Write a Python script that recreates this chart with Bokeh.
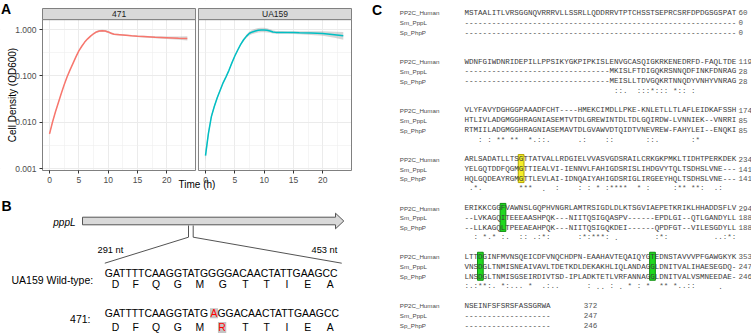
import math
from bokeh.plotting import figure
from bokeh.models import Range1d, FixedTicker, PrintfTickFormatter, CustomJSTickFormatter, Label
from bokeh.layouts import row, column
from bokeh.embed import file_html
from bokeh.resources import INLINE
from bokeh.core.properties import value

SANS = "Liberation Sans"
MONO = "Liberation Mono"

# ======================= Panel A data =======================
facets = ["471", "UA159"]
facet_colors = ["#F8766D", "#00BFC4"]
time_h = [0, 0.5, 1, 1.5, 2, 2.5, 3, 3.5, 4, 4.5, 5, 5.5, 6, 6.5, 7, 7.5, 8, 8.5,
          9, 9.5, 10, 10.5, 11, 11.5, 12, 13, 14, 15, 16, 18, 20, 22, 23.5]
od_471 = [0.0056, 0.0100, 0.0166, 0.0263, 0.0417, 0.0646, 0.0955, 0.135, 0.186, 0.257,
          0.347, 0.437, 0.537, 0.631, 0.724, 0.813, 0.891, 0.933, 0.944, 0.933,
          0.891, 0.832, 0.794, 0.785, 0.776, 0.759, 0.733, 0.716, 0.708, 0.684,
          0.668, 0.653, 0.646]
od_ua159 = [0.0019, 0.00575, 0.0132, 0.0219, 0.0339, 0.0490, 0.0708, 0.0955, 0.132, 0.191,
            0.269, 0.363, 0.479, 0.603, 0.724, 0.832, 0.891, 0.933, 0.966, 0.982,
            0.982, 0.966, 0.933, 0.891, 0.871, 0.871, 0.867, 0.861, 0.851, 0.841,
            0.822, 0.776, 0.733]
# half-width of the confidence band, in decades
ci_471 = [0.030, 0.020, 0.015, 0.012, 0.012, 0.012, 0.012, 0.012, 0.012, 0.012,
          0.012, 0.012, 0.012, 0.012, 0.015, 0.018, 0.020, 0.022, 0.022, 0.022,
          0.022, 0.020, 0.018, 0.016, 0.015, 0.015, 0.015, 0.016, 0.018, 0.022,
          0.028, 0.035, 0.045]
ci_ua159 = [0.120, 0.070, 0.050, 0.040, 0.035, 0.030, 0.028, 0.026, 0.025, 0.025,
            0.025, 0.025, 0.026, 0.030, 0.035, 0.040, 0.045, 0.048, 0.050, 0.050,
            0.048, 0.045, 0.040, 0.035, 0.030, 0.028, 0.028, 0.030, 0.033, 0.040,
            0.050, 0.065, 0.085]
x_ticks = [0, 5, 10, 15, 20]
x_minor = [2.5, 7.5, 12.5, 17.5, 22.5]
y_ticks = [0.001, 0.01, 0.1, 1.0]
y_minor = [10 ** -2.5, 10 ** -1.5, 10 ** -0.5]

# ======================= Panel B data =======================
gene_name = "pppL"
region_start = "291 nt"
region_end = "453 nt"
wt_label = "UA159 Wild-type:"
mut_label = "471:"
wt_nt = "GATTTTCAAGGTATGGGGACAACTATTGAAGCC"
mut_nt = "GATTTTCAAGGTATGAGGACAACTATTGAAGCC"
wt_aa = ["D", "F", "Q", "G", "M", "G", "T", "T", "I", "E", "A"]
mut_aa = ["D", "F", "Q", "G", "M", "R", "T", "T", "I", "E", "A"]
mut_nt_index = 15
mut_aa_index = 5

# ======================= Panel C data =======================
species = ["PP2C_Human", "Sm_PppL", "Sp_PhpP"]
human_rows = [
    "MSTAALITLVRSGGNQVRRRVLLSSRLLQDDRRVTPTCHSSTSEPRCSRFDPDGSGSPAT",
    "WDNFGIWDNRIDEPILLPPSIKYGKPIPKISLENVGCASQIGKRKENEDRFD-FAQLTDE",
    "VLYFAVYDGHGGPAAADFCHT----HMEKCIMDLLPKE-KNLETLLTLAFLEIDKAFSSH",
    "ARLSADATLLTSGTTATVALLRDGIELVVASVGDSRAILCRKGKPMKLTIDHTPERKDEK",
    "ERIKKCGGFVAWNSLGQPHVNGRLAMTRSIGDLDLKTSGVIAEPETKRIKLHHADDSFLV",
    "LTTDGINFMVNSQEICDFVNQCHDPN-EAAHAVTEQAIQYGTEDNSTAVVVPFGAWGKYK",
    "NSEINFSFSRSFASSGRWA",
]
sm_rows = [
    "-" * 60,
    "-" * 32 + "MKISLFTDIGQKRSNNQDFINKFDNRAG",
    "HTLIVLADGMGGHRAGNIASEMTVTDLGREWINTDLTDLGQIRDW-LVNNIEK--VNRRI",
    "YELGQTDDFQGMGTTIEALVI-IENNVLFAHIGDSRISLIHDGVYTQLTSDHSLVNE---",
    "--LVKAGQITEEEAASHPQK---NIITQSIGQASPV------EPDLGI--QTLGANDYLL",
    "VNSDGLTNMISNEAIVAVLTDETKDLDEKAKHLIQLANDAGGLDNITVALIHAESEGDQ-",
    "-" * 19,
]
sp_rows = [
    "-" * 60,
    "-" * 32 + "MEISLLTDVGQKRTNNQDYVNHYVNRAG",
    "RTMIILADGMGGHRAGNIASEMAVTDLGVAWVDTQIDTVNEVREW-FAHYLEI--ENQKI",
    "HQLGQDEAYRGMGTTLEVLAI-IDNQAIYAHIGDSRIGLIRGEEYHQLTSDHSLVNE---",
    "--LLKAGQLTPEEAEAHPQK---NIITQSIGQKDEI------QPDFGT--VILESGDYLL",
    "LNSDGLTNMISGSEIRDIVTSD-IPLADKTETLVRFANNAGGLDNITVALVSMNEEDAE-",
    "-" * 19,
]
human_end = [60, 119, 174, 234, 294, 353, 372]
sm_end = [0, 28, 85, 141, 188, 247, 247]
sp_end = [0, 28, 85, 141, 188, 246, 246]
# conservation marks: (alignment column, marks)
cons_runs = [
    [],
    [(33, "::."), (38, ":::*:::"), (46, "*::"), (50, ":")],
    [(3, ":"), (5, ":"), (7, "**"), (10, "**"), (14, "*.::."), (25, ".:"), (31, "::"),
     (40, "::."), (50, ":*")],
    [(1, ".*."), (12, "***"), (17, "."), (20, ":"), (25, ":"), (27, ":"), (29, "*"),
     (31, ":****"), (38, "*"), (40, ":"), (46, ":**"), (50, "**:"), (55, ".:")],
    [(2, ":"), (4, "*.*"), (8, ":."), (12, "::"), (15, ".:*:"), (25, ":*:***:"), (33, "."),
     (42, ":*:"), (55, "..:*:")],
    [(0, ":.:**:."), (8, "*:..."), (14, "*"), (17, ".:.."), (27, ":"), (29, ".."), (32, ":"),
     (34, "."), (36, "*"), (38, ":"), (40, "*"), (43, "**"), (46, "*..::"), (56, ".")],
    [],
]
# highlighted alignment columns: (block, column, kind)
highlights = [(3, 12, "yellow"), (4, 8, "green"), (5, 3, "green"), (5, 41, "green")]
hl_fill = {"yellow": "#F5EE2A", "green": "#1FD81F"}
hl_line = {"yellow": "#B3A300", "green": "#0F8F0F"}

# ======================= Panel A =======================
A_W, A_H = 370, 190
A_LEFT, A_RIGHT, A_TOP, A_BOTTOM = 42, 19, 8, 20      # canvas margins round the facets
X_LO, X_HI, GAP = -1.2, 24.9, 0.5
SHIFT = X_HI - X_LO + GAP
LOG_LO, LOG_PTOP, LOG_STOP = -3.043, 0.216, 0.4557
XPX = (A_W - A_LEFT - A_RIGHT) / (X_HI + SHIFT - X_LO)
YPX = (A_H - A_TOP - A_BOTTOM) / (LOG_STOP - LOG_LO)
X_START = X_LO - A_LEFT / XPX
X_END = X_HI + SHIFT + A_RIGHT / XPX
LOG_TOP = LOG_STOP + A_TOP / YPX
LOG_BOT = LOG_LO - A_BOTTOM / YPX


def ax_x(px):
    return X_START + px / XPX


def ax_y(py):
    return 10 ** (LOG_TOP - py / YPX)


pA = figure(width=A_W, height=A_H, title=None, y_axis_type="log",
            x_range=Range1d(X_START, X_END), y_range=Range1d(10 ** LOG_BOT, 10 ** LOG_TOP),
            output_backend="svg", toolbar_location=None, min_border=0, frame_align=False)
pA.extra_x_ranges = {"f2": Range1d(X_START - SHIFT, X_END - SHIFT)}
pA.outline_line_color = None
pA.border_fill_color = "white"

# white masks outside the two panels (hide grid there)
Y_B, Y_T = 10 ** LOG_BOT, 10 ** LOG_TOP
pA.quad(left=[X_START, X_HI + SHIFT, X_START, X_START, X_HI],
        right=[X_LO, X_END, X_END, X_END, X_HI + GAP],
        bottom=[Y_B, Y_B, Y_B, 10 ** LOG_STOP, Y_B],
        top=[Y_T, Y_T, 10 ** LOG_LO, Y_T, Y_T],
        fill_color="white", line_color=None)

series = [(od_471, ci_471), (od_ua159, ci_ua159)]
for i, (lab, colr, (od, ci)) in enumerate(zip(facets, facet_colors, series)):
    rn = "default" if i == 0 else "f2"
    lo = [v / 10 ** c for v, c in zip(od, ci)]
    hi = [v * 10 ** c for v, c in zip(od, ci)]
    pA.varea(x=time_h, y1=lo, y2=hi, fill_color="#999999", fill_alpha=0.4, x_range_name=rn)
    pA.line(time_h, od, line_color=colr, line_width=1.5, x_range_name=rn)
    pA.quad(left=[X_LO], right=[X_HI], bottom=[10 ** LOG_LO], top=[10 ** LOG_PTOP],
            fill_color=None, line_color="#808080", line_width=1, x_range_name=rn)
    pA.quad(left=[X_LO], right=[X_HI], bottom=[10 ** LOG_PTOP], top=[10 ** LOG_STOP],
            fill_color="#D9D9D9", line_color="#808080", line_width=1, x_range_name=rn)
    pA.text(x=[(X_LO + X_HI) / 2], y=[10 ** ((LOG_PTOP + LOG_STOP) / 2)], text=[lab],
            text_font=value(SANS), text_font_size="8.5px", text_color="#1A1A1A",
            text_align="center", text_baseline="middle", x_range_name=rn)

xa = pA.xaxis[0]
xa.fixed_location = 10 ** LOG_LO
xa.ticker = FixedTicker(ticks=x_ticks + [t + SHIFT for t in x_ticks],
                        minor_ticks=x_minor + [t + SHIFT for t in x_minor])
xa.formatter = CustomJSTickFormatter(args=dict(shift=SHIFT),
                                     code="const v = tick > shift - 3 ? tick - shift : tick; return String(Math.round(v));")
ya = pA.yaxis[0]
ya.fixed_location = X_LO
ya.ticker = FixedTicker(ticks=y_ticks, minor_ticks=y_minor)
ya.formatter = PrintfTickFormatter(format="%.3f")
for ax in (xa, ya):
    ax.axis_line_color = None
    ax.major_tick_line_color = "#333333"
    ax.major_tick_out = 3
    ax.major_tick_in = 0
    ax.minor_tick_line_color = None
    ax.major_label_text_font = SANS
    ax.major_label_text_font_size = "8.5px"
    ax.major_label_text_color = "#4D4D4D"
    ax.major_label_standoff = 2
for g in (pA.xgrid[0], pA.ygrid[0]):
    g.grid_line_color = "#EBEBEB"
    g.grid_line_width = 1
    g.minor_grid_line_color = "#EFEFEF"
    g.minor_grid_line_width = 0.6

pA.add_layout(Label(x=(X_LO + X_HI + SHIFT) / 2, y=ax_y(183.5), text="Time (h)",
                    text_font=SANS, text_font_size="10px", text_color="black",
                    text_align="center", text_baseline="middle"))
pA.add_layout(Label(x=ax_x(11.5), y=10 ** ((LOG_LO + LOG_PTOP) / 2), text="Cell Density (OD600)",
                    angle=math.pi / 2, text_font=SANS, text_font_size="10px", text_color="black",
                    text_align="center", text_baseline="middle"))
pA.add_layout(Label(x=ax_x(0.5), y=ax_y(8.7), text="A", text_font=SANS, text_font_size="14px",
                    text_font_style="bold", text_color="black", text_align="left",
                    text_baseline="middle"))

# ======================= Panel B =======================
B_W, B_H = 370, 143
pB = figure(width=B_W, height=B_H, title=None, x_range=Range1d(0, B_W), y_range=Range1d(B_H, 0),
            x_axis_location=None, y_axis_location=None, output_backend="svg",
            toolbar_location=None, min_border=0, frame_align=False)
pB.outline_line_color = None
pB.xgrid.visible = False
pB.ygrid.visible = False

ARROW_L, ARROW_HEAD, ARROW_TIP = 82, 335, 343.3
ARROW_BT, ARROW_BB, ARROW_HT, ARROW_HB = 26.7, 34.3, 22.7, 38.3
pB.patch([ARROW_L, ARROW_HEAD, ARROW_HEAD, ARROW_TIP, ARROW_HEAD, ARROW_HEAD, ARROW_L],
         [ARROW_BT, ARROW_BT, ARROW_HT, (ARROW_BT + ARROW_BB) / 2, ARROW_HB, ARROW_BB, ARROW_BB],
         fill_color="#D9D9D9", line_color="#555555", line_width=1)

NT_FONT = 10.4
SEQ_X0 = 104.3
ARIAL_W = {"A": 0.667, "C": 0.722, "G": 0.778, "T": 0.611}


def nt_x(seq, i):
    return SEQ_X0 + NT_FONT * sum(ARIAL_W[c] for c in seq[:i])


SEQ_X1 = nt_x(wt_nt, len(wt_nt))
MARK_L, MARK_R, MARK_T, MARK_B, FAN_Y = 188, 192.7, 35, 46.7, 72.7
pB.segment(x0=[MARK_L, MARK_R, MARK_L, MARK_R], y0=[MARK_T, MARK_T, MARK_B, MARK_B],
           x1=[MARK_L, MARK_R, SEQ_X0, SEQ_X1], y1=[MARK_B, MARK_B, FAN_Y, FAN_Y],
           line_color="#404040", line_width=0.9)

WT_Y, WT_AA_Y, MUT_Y, MUT_AA_Y = 82.8, 94.2, 122.8, 136.6
codon_c = [(nt_x(wt_nt, 3 * k) + nt_x(wt_nt, 3 * k + 3)) / 2 for k in range(len(wt_aa))]
mut_l = nt_x(mut_nt, mut_nt_index)
mut_r = nt_x(mut_nt, mut_nt_index + 1)
mut_codon_c = (nt_x(mut_nt, 3 * mut_aa_index) + nt_x(mut_nt, 3 * mut_aa_index + 3)) / 2
pB.rect(x=[(mut_l + mut_r) / 2, mut_codon_c], y=[MUT_Y, MUT_AA_Y + 0.5], width=[8, 8.3],
        height=[10, 11], fill_color="#C4C4C4", line_color=None)

pB.text(x=[1], y=[15.3], text=["B"], text_font=value(SANS), text_font_size="14px",
        text_font_style="bold", text_color="black", text_align="left", text_baseline="middle")
pB.text(x=[75], y=[32], text=[gene_name], text_font=value(SANS), text_font_size="10px",
        text_font_style="italic", text_color="black", text_align="right", text_baseline="middle")
pB.text(x=[97, 311], y=[59, 59], text=[region_start, region_end], text_font=value(SANS),
        text_font_size="9.3px", text_color="black", text_align="left", text_baseline="middle")
pB.text(x=[92.7, 90], y=[89.7, 128.3], text=[wt_label, mut_label], text_font=value(SANS),
        text_font_size="10.5px", text_color="black", text_align="right", text_baseline="middle")
pB.text(x=[SEQ_X0, SEQ_X0, mut_r], y=[WT_Y, MUT_Y, MUT_Y],
        text=[wt_nt, mut_nt[:mut_nt_index], mut_nt[mut_nt_index + 1:]],
        text_font=value(SANS), text_font_size=f"{NT_FONT}px", text_color="black",
        text_align="left", text_baseline="middle")
pB.text(x=[(mut_l + mut_r) / 2], y=[MUT_Y], text=[mut_nt[mut_nt_index]], text_font=value(SANS),
        text_font_size=f"{NT_FONT}px", text_color="#FF0000", text_align="center",
        text_baseline="middle")
aa_x, aa_y, aa_t, aa_c = [], [], [], []
for k, (a, b) in enumerate(zip(wt_aa, mut_aa)):
    aa_x += [codon_c[k], codon_c[k] if k != mut_aa_index else mut_codon_c]
    aa_y += [WT_AA_Y, MUT_AA_Y]
    aa_t += [a, b]
    aa_c += ["black", "#FF0000" if k == mut_aa_index else "black"]
pB.text(x=aa_x, y=aa_y, text=aa_t, text_color=aa_c, text_font=value(SANS),
        text_font_size=f"{NT_FONT}px", text_align="center", text_baseline="middle")

# ======================= Panel C =======================
C_W, C_H = 381, 333
pC = figure(width=C_W, height=C_H, title=None, x_range=Range1d(0, C_W), y_range=Range1d(C_H, 0),
            x_axis_location=None, y_axis_location=None, output_backend="svg",
            toolbar_location=None, min_border=0, frame_align=False)
pC.outline_line_color = None
pC.xgrid.visible = False
pC.ygrid.visible = False

C_X_NAME, C_X_SEQ, CW = 29.3, 94, 4.53
C_Y0, C_BLOCK, C_ROW, C_CONS = 12.3, 48.83, 9.8, 29.2
num_col = [60.5, 60.5, 60.5, 60.5, 60.5, 60.5, 26.3]

for b, c, kind in highlights:
    pC.rect(x=[C_X_SEQ + (c + 0.5) * CW], y=[C_Y0 + b * C_BLOCK + 9.3], width=CW + 1.2,
            height=28, fill_color=hl_fill[kind], line_color=hl_line[kind], line_width=1)

nx, ny, nt = [], [], []
sx, sy, st = [], [], []
mx, my, mt = [], [], []
for b in range(len(human_rows)):
    y0 = C_Y0 + b * C_BLOCK
    rows_b = [human_rows[b], sm_rows[b], sp_rows[b]]
    ends_b = [human_end[b], sm_end[b], sp_end[b]]
    for r in range(3):
        nx.append(C_X_NAME); ny.append(y0 + r * C_ROW); nt.append(species[r])
        sx.append(C_X_SEQ); sy.append(y0 + r * C_ROW); st.append(rows_b[r])
        mx.append(C_X_SEQ + num_col[b] * CW); my.append(y0 + r * C_ROW); mt.append(str(ends_b[r]))
    for col, marks in cons_runs[b]:
        mx.append(C_X_SEQ + col * CW); my.append(y0 + C_CONS); mt.append(marks)

pC.text(x=[1.5], y=[9], text=["C"], text_font=value(SANS), text_font_size="14px",
        text_font_style="bold", text_color="black", text_align="left", text_baseline="middle")
pC.text(x=nx, y=ny, text=nt, text_font=value(SANS), text_font_size="6.2px", text_color="#4A4A4A",
        text_align="left", text_baseline="middle")
pC.text(x=sx, y=sy, text=st, text_font=value(MONO), text_font_size="7.55px", text_color="#3A3A3A",
        text_align="left", text_baseline="middle")
pC.text(x=mx, y=my, text=mt, text_font=value(MONO), text_font_size="7.55px", text_color="#555555",
        text_align="left", text_baseline="middle")

layout = row(column(pA, pB), pC)
open("out.html", "w").write(file_html(layout, INLINE))
